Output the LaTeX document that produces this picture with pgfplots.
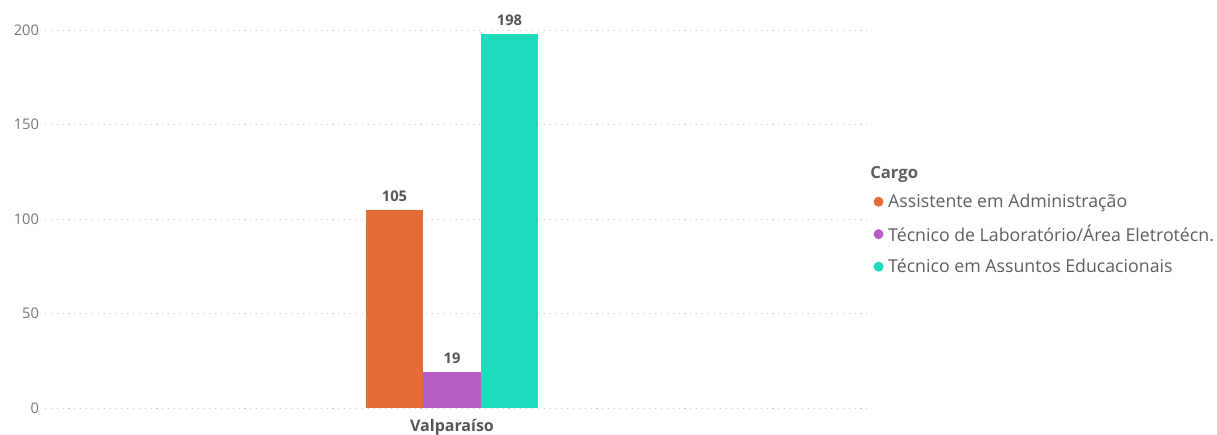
\documentclass[border=0pt]{standalone}
\usepackage{pgfplots}
\pgfplotsset{compat=1.18}
\usepackage{fontspec}
\setmainfont{Open Sans}

\definecolor{cAdm}{HTML}{E66C37}
\definecolor{cLab}{HTML}{B75FC5}
\definecolor{cTae}{HTML}{1FDBBE}
\definecolor{tickgray}{HTML}{777777}
\definecolor{labgray}{HTML}{555555}
\definecolor{leggray}{HTML}{605E5C}

\begin{document}
\begin{tikzpicture}
\begin{axis}[
	at={(33.75pt,20.25pt)}, anchor=south west,
	scale only axis,
	width=618.75pt, height=283.5pt,
	ybar=0pt, bar width=43.1pt,
	xmin=-1, xmax=1.027,
	ymin=0, ymax=200,
	axis line style={draw=none},
	clip=false,
	xtick={0}, xticklabels={\textbf{Valparaíso}},
	ytick={0,50,100,150,200},
	tick style={draw=none},
	ymajorgrids,
	grid style={dash pattern=on 0.8pt off 3.6pt, gray!45, line width=0.7pt},
	yticklabel style={font=\fontsize{11}{12}\selectfont, text=tickgray, xshift=-1pt},
	xticklabel style={font=\fontsize{12}{14}\selectfont, text=labgray, yshift=-1pt},
	/pgf/number format/assume math mode=true,
	nodes near coords,
	every node near coord/.append style={font=\fontsize{11}{12}\selectfont\bfseries, text=labgray, yshift=2.5pt},
	legend style={at={(rel axis cs:1.004,0.574)}, anchor=north west, draw=none, fill=none,
		font=\fontsize{13.3}{16}\selectfont, text=leggray, row sep=7.6pt,
		inner sep=0pt, cells={anchor=west},
		/tikz/every odd column/.append style={column sep=1.5pt}},
	legend image code/.code={\fill[#1] (0pt,0pt) circle (3.75pt);},
]
\addplot[fill=cAdm, draw=none] coordinates {(0,105)};
\addplot[fill=cLab, draw=none] coordinates {(0,19)};
\addplot[fill=cTae, draw=none] coordinates {(0,198)};
\legend{Assistente em Administração, Técnico de Laboratório/Área Eletrotécn., Técnico em Assuntos Educacionais}
\node[anchor=west, font=\fontsize{12.5}{14}\selectfont\bfseries, text=leggray, inner sep=0pt] at (rel axis cs:1.0,0.619) {Cargo};
\end{axis}
\pgfresetboundingbox
\path (0,0) rectangle (912.75pt,326.25pt);
\end{tikzpicture}
\end{document}
